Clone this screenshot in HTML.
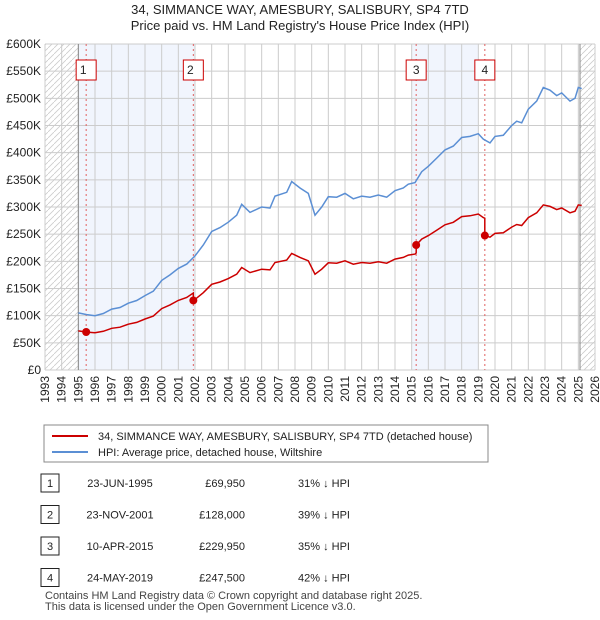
<!DOCTYPE html>
<html><head><meta charset="utf-8"><style>
body{margin:0;background:#fff;font-family:"Liberation Sans","DejaVu Sans",sans-serif;}
#c{position:relative;width:600px;height:620px;overflow:hidden}
.t{position:absolute;font-size:12px;color:#222}
</style></head><body>
<div id="c">
<svg id="svg" width="600" height="620" style="position:absolute;left:0;top:0"></svg>
</div>
<script>
const years=[1993,1994,1995,1996,1997,1998,1999,2000,2001,2002,2003,2004,2005,2006,2007,2008,2009,2010,2011,2012,2013,2014,2015,2016,2017,2018,2019,2020,2021,2022,2023,2024,2025,2026];
const yTicks=[0,50,100,150,200,250,300,350,400,450,500,550,600];
const yTickLabels=["£0","£50K","£100K","£150K","£200K","£250K","£300K","£350K","£400K","£450K","£500K","£550K","£600K"];
const hpiT=[1995.0,1995.5,1996.0,1996.5,1997.0,1997.5,1998.0,1998.5,1999.0,1999.5,2000.0,2000.5,2001.0,2001.5,2002.0,2002.5,2003.0,2003.5,2004.0,2004.5,2004.8,2005.3,2006.0,2006.5,2006.8,2007.5,2007.8,2008.3,2008.8,2009.2,2009.6,2010.0,2010.5,2011.0,2011.5,2012.0,2012.5,2013.0,2013.5,2014.0,2014.5,2014.8,2015.2,2015.6,2016.0,2016.5,2017.0,2017.5,2018.0,2018.5,2019.0,2019.3,2019.7,2020.0,2020.5,2021.0,2021.3,2021.6,2022.0,2022.5,2022.9,2023.3,2023.7,2024.0,2024.5,2024.8,2025.0,2025.2];
const hpiV=[105,102,100,104,112,115,123,128,137,145,165,175,187,195,210,230,255,262,272,285,305,290,300,298,320,327,347,335,325,285,300,319,318,325,315,320,318,322,318,330,335,342,345,365,375,390,405,412,428,430,435,425,418,430,432,450,458,455,480,495,520,515,505,510,495,500,520,518];
const saleT=[1995.47,2001.9,2015.27,2019.39];
const saleP=[69.95,128,229.95,247.5];
const saleLabels=["1","2","3","4"];
const rows=[["1","23-JUN-1995","£69,950","31% ↓ HPI"],["2","23-NOV-2001","£128,000","39% ↓ HPI"],["3","10-APR-2015","£229,950","35% ↓ HPI"],["4","24-MAY-2019","£247,500","42% ↓ HPI"]];
const L=45,R=595,T=44,B=370;
const X=t=>L+(t-1993)/33*(R-L), Y=v=>B-v/600*(B-T);
const s=document.getElementById('svg'),NS="http://www.w3.org/2000/svg";
function mk(tag,a,name,p){const e=document.createElementNS(NS,tag);for(const k in a)e.setAttribute(k,a[k]);


(p||s).appendChild(e);return e;}
function hpiAt(t){for(let i=0;i<hpiT.length-1;i++)if(t<=hpiT[i+1])return hpiV[i]+(hpiV[i+1]-hpiV[i])*(t-hpiT[i])/(hpiT[i+1]-hpiT[i]);return hpiV[hpiV.length-1];}
// defs hatch
const d=mk('defs',{},'defs');const pt=mk('pattern',{id:'h',width:6,height:6,patternUnits:'userSpaceOnUse'},'hatch-pattern',d);
mk('path',{d:'M0,6L6,0',stroke:'#ccc','stroke-width':0.8},'hatch-line',pt);
mk('rect',{x:L,y:T,width:R-L,height:B-T,fill:'#fff'},'plot-bg');
mk('rect',{x:L,y:T,width:X(1995)-L,height:B-T,fill:'url(#h)'},'hatch-pre');
mk('rect',{x:X(2025.1),y:T,width:R-X(2025.1),height:B-T,fill:'url(#h)'},'hatch-post');
mk('rect',{x:X(1995),y:T,width:X(2002)-X(1995),height:B-T,fill:'#eef3fc',opacity:0.8},'shade-1');
mk('rect',{x:X(2015),y:T,width:X(2019)-X(2015),height:B-T,fill:'#eef3fc',opacity:0.8},'shade-2');
years.forEach(y=>{mk('line',{x1:X(y),x2:X(y),y1:T,y2:B,stroke:'#ccc'},'x-grid');
const tx=mk('text',{x:0,y:0,transform:`translate(${X(y)+4},${B+6}) rotate(-90)`,'text-anchor':'end','font-size':12,fill:'#222'},'x-tick-label');tx.textContent=y;});
yTicks.forEach((v,i)=>{mk('line',{x1:L,x2:R,y1:Y(v),y2:Y(v),stroke:'#ccc'},'y-grid');
const tx=mk('text',{x:L-4,y:Y(v)+4,'text-anchor':'end','font-size':12,fill:'#222'},'y-tick-label');tx.textContent=yTickLabels[i];});
mk('line',{x1:X(1995),x2:X(1995),y1:T,y2:B,stroke:'#888'},'data-start-line');
mk('line',{x1:X(2025.1),x2:X(2025.1),y1:T,y2:B,stroke:'#888'},'data-end-line');
saleT.forEach((t,i)=>{mk('line',{x1:X(t),x2:X(t),y1:T,y2:B,stroke:'#e06060','stroke-dasharray':'2,3'},'sale-marker-line');
mk('rect',{x:X(t)-10,y:60,width:20,height:20,fill:'#fff',stroke:'#c00'},'sale-label-box');
const tx=mk('text',{x:X(t)-(i==1||i==0?3:0),y:74,'text-anchor':'middle','font-size':12,fill:'#222'},'sale-label');tx.textContent=saleLabels[i];});
// hpi line
mk('path',{d:'M'+hpiT.map((t,i)=>X(t).toFixed(1)+','+Y(hpiV[i]).toFixed(1)).join('L'),fill:'none',stroke:'#5b8fd4','stroke-width':1.5},'hpi-line');
// red line: hpi scaled by each sale
function factor(t){let f=saleP[0]/hpiAt(saleT[0]);for(let i=0;i<saleT.length;i++)if(t>=saleT[i])f=saleP[i]/hpiAt(saleT[i]);return f;}
let pts=[];let ts=hpiT.concat(saleT).sort((a,b)=>a-b);
ts.forEach(t=>{ if(saleT.includes(t)){pts.push([t-0.001,hpiAt(t)*factor(t-0.01)]);} pts.push([t,hpiAt(t)*factor(t)]);});
mk('path',{d:'M'+pts.map(p=>X(p[0]).toFixed(1)+','+Y(p[1]).toFixed(1)).join('L'),fill:'none',stroke:'#cc0000','stroke-width':1.5},'price-line');
saleT.forEach((t,i)=>mk('circle',{cx:X(t),cy:Y(saleP[i]),r:4,fill:'#cc0000'},'sale-point'));
// title
[["34, SIMMANCE WAY, AMESBURY, SALISBURY, SP4 7TD",14],["Price paid vs. HM Land Registry's House Price Index (HPI)",30]].forEach(a=>{const tx=mk('text',{x:300,y:a[1],'text-anchor':'middle','font-size':13,fill:'#222'},'chart-title');tx.textContent=a[0];});
// legend
mk('rect',{x:44,y:425,width:444,height:37,fill:'#fff',stroke:'#888'},'legend-box');
mk('line',{x1:52,x2:88,y1:436,y2:436,stroke:'#cc0000','stroke-width':2},'legend-swatch-price');
mk('line',{x1:52,x2:88,y1:452,y2:452,stroke:'#5b8fd4','stroke-width':2},'legend-swatch-hpi');
let tx=mk('text',{x:98,y:440,'font-size':11,fill:'#222'},'legend-entry-price');tx.textContent="34, SIMMANCE WAY, AMESBURY, SALISBURY, SP4 7TD (detached house)";
tx=mk('text',{x:98,y:456,'font-size':11,fill:'#222'},'legend-entry-hpi');tx.textContent="HPI: Average price, detached house, Wiltshire";
// table
rows.forEach((r,i)=>{const y=483+i*31.5;
mk('rect',{x:41,y:y-9,width:18,height:18,fill:'#fff',stroke:'#222'},'table-row-number-box');
let t=mk('text',{x:50,y:y+4,'text-anchor':'middle','font-size':11,fill:'#222'},'table-row-number');t.textContent=r[0];
t=mk('text',{x:120,y:y+4,'text-anchor':'middle','font-size':11,fill:'#222'},'table-date');t.textContent=r[1];
t=mk('text',{x:245,y:y+4,'text-anchor':'end','font-size':11,fill:'#222'},'table-price');t.textContent=r[2];
t=mk('text',{x:298,y:y+4,'font-size':11,fill:'#222'},'table-hpi-diff');t.textContent=r[3];});
tx=mk('text',{x:45,y:599,'font-size':11,fill:'#444'},'footer-line-1');tx.textContent="Contains HM Land Registry data © Crown copyright and database right 2025.";
tx=mk('text',{x:45,y:610,'font-size':11,fill:'#444'},'footer-line-2');tx.textContent="This data is licensed under the Open Government Licence v3.0.";
</script>
</body></html>
